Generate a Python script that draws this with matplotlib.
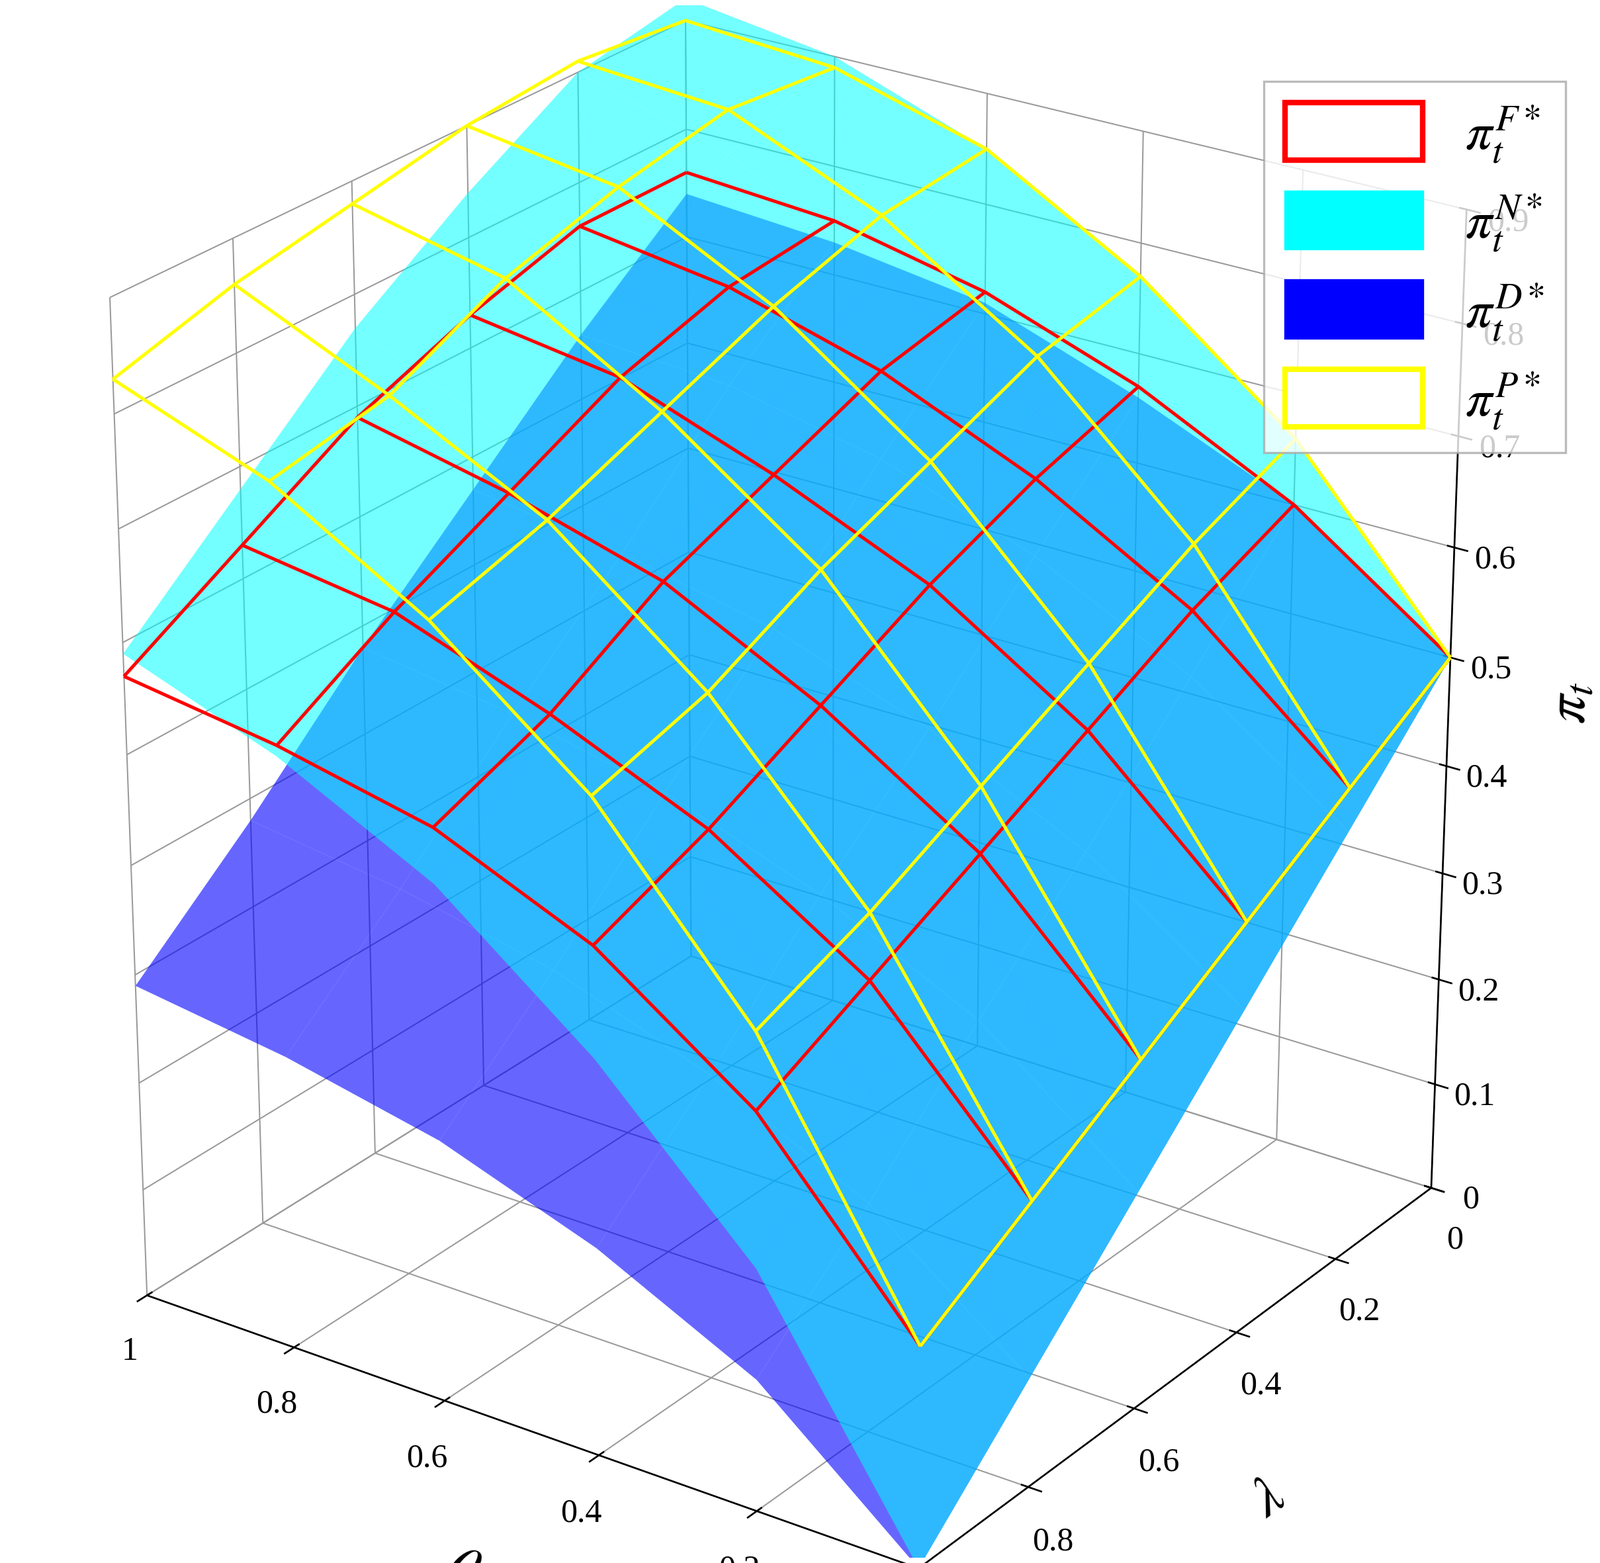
import numpy as np
import matplotlib
matplotlib.use("Agg")
import matplotlib.pyplot as plt
from matplotlib.patches import Patch

plt.rcParams['font.family'] = ['Liberation Serif', 'DejaVu Serif']
plt.rcParams['mathtext.fontset'] = 'stix'

theta = [0.0, 0.2, 0.4, 0.6, 0.8, 1.0]
lam = [0.0, 0.2, 0.4, 0.6, 0.8, 1.0]

# rows: theta, columns: lambda
pi_F = [[.50, .44, .38, .32, .26, .20],
        [.60, .56, .51, .46, .41, .36],
        [.67, .64, .60, .55, .50, .46],
        [.72, .70, .66, .62, .56, .52],
        [.75, .74, .71, .66, .61, .55],
        [.76, .76, .73, .69, .63, .57]]
pi_N = [[.50, .40, .30, .20, .10, .00],
        [.66, .58, .49, .40, .31, .22],
        [.77, .70, .62, .53, .44, .36],
        [.85, .79, .72, .64, .55, .47],
        [.90, .86, .79, .71, .62, .54],
        [.92, .90, .84, .77, .68, .59]]
pi_D = [[.50, .40, .30, .20, .10, .00],
        [.60, .50, .40, .31, .21, .12],
        [.66, .57, .47, .38, .28, .19],
        [.71, .62, .52, .43, .33, .24],
        [.73, .65, .55, .46, .36, .27],
        [.74, .66, .57, .48, .38, .29]]
pi_P = [[.50, .44, .38, .32, .26, .20],
        [.66, .62, .57, .52, .47, .43],
        [.77, .75, .71, .67, .62, .59],
        [.85, .84, .81, .77, .73, .70],
        [.89, .90, .88, .85, .80, .78],
        [.90, .91, .90, .88, .86, .83]]

T, L = np.meshgrid(theta, lam, indexing='ij')

fig = plt.figure(figsize=(10.075, 9.842), dpi=240)
ax = fig.add_axes([0.0, 0.0, 0.97, 1.0], projection='3d')
ax.set_box_aspect((1, 1, 1.15), zoom=1.08)

ax.plot_surface(T, L, np.array(pi_D), color=(0.0, 0.0, 1.0, 0.6), shade=False, linewidth=0)
ax.plot_wireframe(T, L, np.array(pi_F), color='red', linewidth=1.5)
ax.plot_surface(T, L, np.array(pi_N), color=(0.0, 1.0, 1.0, 0.55), shade=False, linewidth=0)
ax.plot_wireframe(T, L, np.array(pi_P), color='yellow', linewidth=1.5)

ax.set_xlim(0, 1)
ax.set_ylim(0, 1)
ax.set_zlim(0, 0.9)
ax.set_xticks([0, 0.2, 0.4, 0.6, 0.8, 1])
ax.set_xticklabels(['0', '0.2', '0.4', '0.6', '0.8', '1'])
ax.set_yticks([0, 0.2, 0.4, 0.6, 0.8, 1])
ax.set_yticklabels(['0', '0.2', '0.4', '0.6', '0.8', '1'])
ax.set_zticks(np.arange(0, 0.91, 0.1))
ax.set_zticklabels(['0'] + ['%.1f' % v for v in np.arange(0.1, 0.91, 0.1)])
ax.tick_params(labelsize=15)
ax.set_xlabel(r'$\theta$', fontsize=26, labelpad=18)
ax.set_ylabel(r'$\lambda$', fontsize=26, labelpad=18)
ax.set_zlabel(r'$\pi_t$', fontsize=26, labelpad=14)

for a in (ax.xaxis, ax.yaxis, ax.zaxis):
    a.set_pane_color((1, 1, 1, 0))
    a._axinfo['grid']['color'] = (0.6, 0.6, 0.6, 1)
    a._axinfo['grid']['linewidth'] = 0.6
ax.view_init(elev=25, azim=125)

handles = [Patch(facecolor='white', edgecolor='red', linewidth=2.5),
           Patch(facecolor='cyan', edgecolor='cyan'),
           Patch(facecolor='blue', edgecolor='blue'),
           Patch(facecolor='white', edgecolor='yellow', linewidth=2.5)]
labels = [r'$\pi_t^{F*}$', r'$\pi_t^{N*}$', r'$\pi_t^{D*}$', r'$\pi_t^{P*}$']
fig.legend(handles, labels, loc='upper right', bbox_to_anchor=(0.995, 0.965),
           fontsize=24, fancybox=False, edgecolor='#aaaaaa', handlelength=2.6, handleheight=1.3)

fig.savefig('out.png')
